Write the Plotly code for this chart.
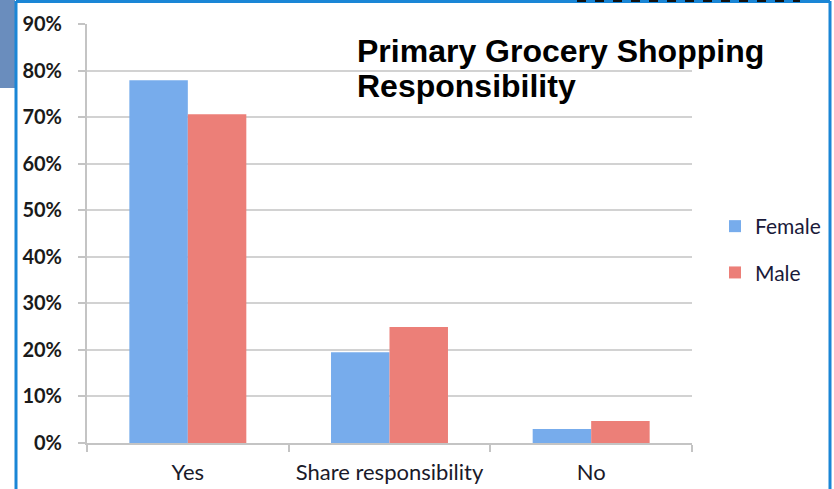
import plotly.graph_objects as go

categories = ["Yes", "Share responsibility", "No"]
female = [0.779, 0.195, 0.030]
male = [0.706, 0.249, 0.047]
series_names = ["Female", "Male"]
tick_vals = [0, 0.1, 0.2, 0.3, 0.4, 0.5, 0.6, 0.7, 0.8, 0.9]
tick_text = ["0%", "10%", "20%", "30%", "40%", "50%", "60%", "70%", "80%", "90%"]
title_lines = ["Primary Grocery Shopping", "Responsibility"]

W, H = 834, 489
L, R, T, B = 87, 142, 24, 46
pw, ph = W - L - R, H - T - B

def px(x):
    return (x - L) / pw

def py(y):
    return (H - B - y) / ph

fig = go.Figure()
fig.add_trace(go.Bar(x=categories, y=female, name=series_names[0],
                     marker=dict(color="#77acec", line=dict(width=0)),
                     legendgroup="f"))
fig.add_trace(go.Bar(x=categories, y=male, name=series_names[1],
                     marker=dict(color="#ec7f78", line=dict(width=0)),
                     legendgroup="m"))

title_font = dict(size=32, family="Liberation Sans, Arial, sans-serif", color="black", weight="bold")

fig.update_layout(
    width=W, height=H,
    margin=dict(l=L, r=R, t=T, b=B, autoexpand=False),
    paper_bgcolor="white", plot_bgcolor="white",
    barmode="group", bargap=0.42, bargroupgap=0,
    font=dict(family="Lato, sans-serif", color="#1a1a2a"),
    legend=dict(x=px(715), y=py(206), xanchor="left", yanchor="top",
                font=dict(size=21, family="Lato, sans-serif", color="#1a1a3a"),
                tracegroupgap=16, itemwidth=30, bgcolor="rgba(0,0,0,0)"),
    showlegend=True,
    xaxis=dict(showline=True, linecolor="#c4c4c4", linewidth=2,
               ticks="outside", tickson="boundaries", ticklen=7, tickcolor="#c4c4c4",
               tickwidth=2, showgrid=False, ticklabelstandoff=9,
               tickfont=dict(size=22, family="Lato, sans-serif", color="#1a1a2a")),
    yaxis=dict(range=[0, 0.9], tickvals=tick_vals, ticktext=tick_text,
               showline=True, linecolor="#c4c4c4", linewidth=2,
               ticks="outside", ticklen=7, tickcolor="#c4c4c4", tickwidth=2,
               showgrid=True, gridcolor="#d2d2d2", gridwidth=2,
               ticklabelstandoff=12,
               tickfont=dict(size=20, family="Lato, sans-serif", color="#1a1a1a", weight="bold")),
    annotations=[
        dict(text=title_lines[0], xref="paper", yref="paper", x=px(355), y=py(31),
             xanchor="left", yanchor="top", align="left", showarrow=False, font=title_font),
        dict(text=title_lines[1], xref="paper", yref="paper", x=px(355), y=py(66),
             xanchor="left", yanchor="top", align="left", showarrow=False, font=title_font),
    ],
    shapes=[
        dict(type="rect", xref="paper", yref="paper", x0=px(-5), x1=px(15), y0=py(88), y1=py(-5),
             fillcolor="#6a8dbd", line=dict(width=0), layer="above"),
        dict(type="line", xref="paper", yref="paper", x0=px(16), x1=px(16), y0=py(1), y1=py(495),
             line=dict(color="#1a86d6", width=3)),
        dict(type="line", xref="paper", yref="paper", x0=px(16), x1=px(830), y0=py(1.5), y1=py(1.5),
             line=dict(color="#1a86d6", width=3)),
        dict(type="line", xref="paper", yref="paper", x0=px(830), x1=px(830), y0=py(1), y1=py(495),
             line=dict(color="#1a86d6", width=3)),
        dict(type="line", xref="paper", yref="paper", x0=px(577), x1=px(800), y0=py(0.5), y1=py(0.5),
             line=dict(color="#111111", width=3, dash="dash")),
    ],
)

fig.write_html("out.html", config={"displayModeBar": False},
               post_script="document.body.style.margin='0';document.body.style.overflow='hidden';")
